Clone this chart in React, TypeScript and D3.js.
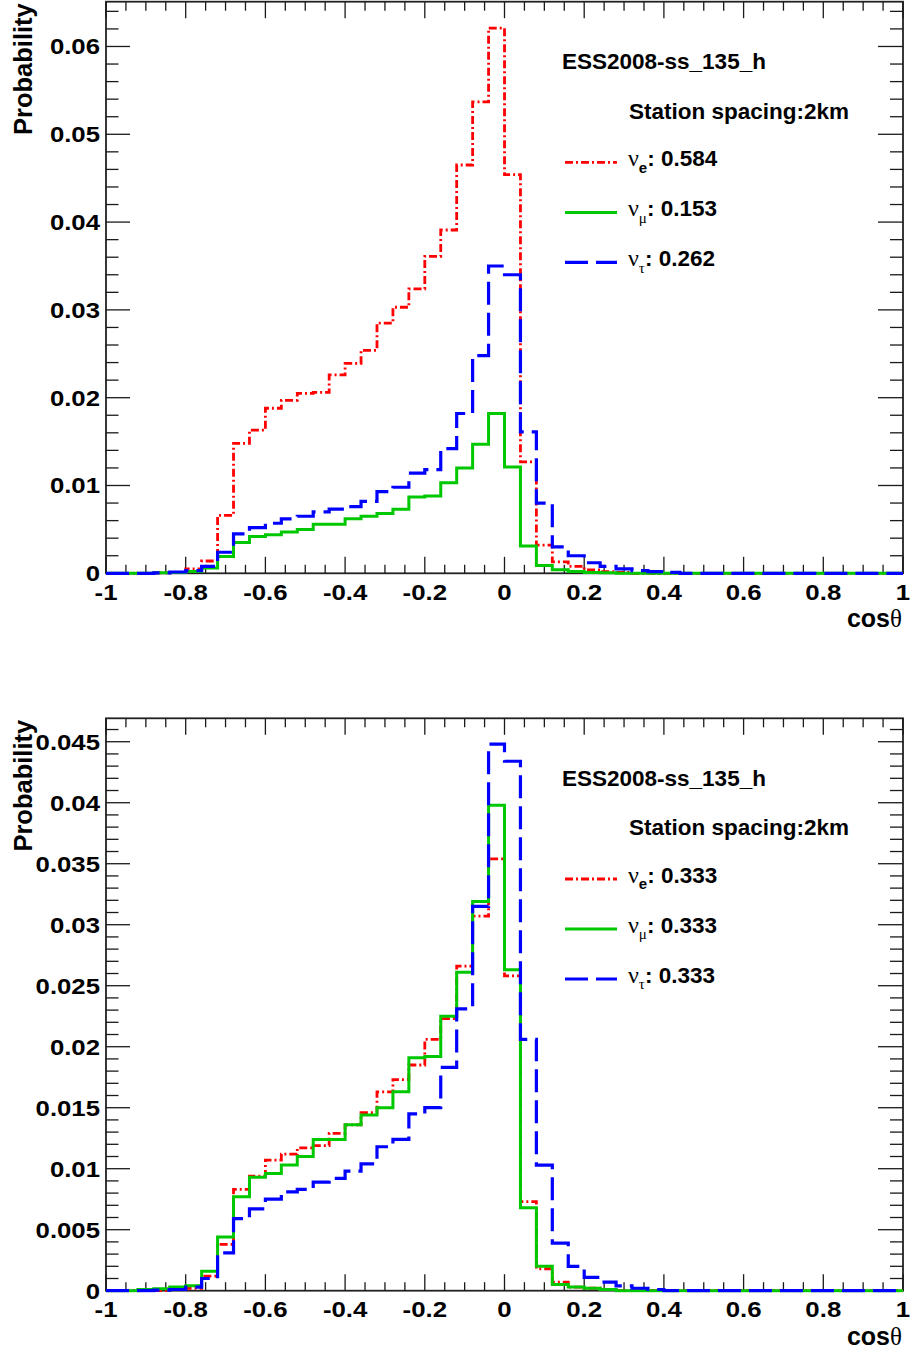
import React from "react";
import * as d3 from "d3";

// Histogram binning: 50 bins of width 0.04 over cos(theta) in [-1, 1]
const BIN_COUNT = 50;
const X_MIN = -1;
const X_MAX = 1;

const X_MAJOR_TICKS = [-1, -0.8, -0.6, -0.4, -0.2, 0, 0.2, 0.4, 0.6, 0.8, 1];
const X_TICK_LABELS = ["-1", "-0.8", "-0.6", "-0.4", "-0.2", "0", "0.2", "0.4", "0.6", "0.8", "1"];

// ---- Upper pad: flavour-weighted distributions ----
const NUE_UPPER = [
  0, 0, 0, 0.00005, 0.0001, 0.0005, 0.0014, 0.0066, 0.0148, 0.0163,
  0.0188, 0.0197, 0.0205, 0.0206, 0.0226, 0.0239, 0.0254, 0.0285, 0.0303, 0.0324,
  0.0361, 0.0391, 0.0465, 0.0537, 0.0621, 0.0454, 0.0127, 0.0032, 0.0013, 0.0008,
  0.0004, 0.0002, 0.0001, 0, 0, 0, 0, 0, 0, 0,
  0, 0, 0, 0, 0, 0, 0, 0, 0, 0,
];
const NUMU_UPPER = [
  0, 0, 0, 0.00005, 0.0001, 0.0002, 0.0006, 0.0019, 0.0035, 0.0042,
  0.0044, 0.0047, 0.005, 0.0056, 0.0056, 0.0062, 0.0065, 0.0068, 0.0073, 0.0087,
  0.0088, 0.0103, 0.012, 0.0147, 0.0182, 0.0121, 0.0031, 0.0009, 0.0004, 0.0002,
  0.0001, 0.00005, 0, 0, 0, 0, 0, 0, 0, 0,
  0, 0, 0, 0, 0, 0, 0, 0, 0, 0,
];
const NUTAU_UPPER = [
  0, 0, 0, 0.00005, 0.00015, 0.0003, 0.0008, 0.0024, 0.0045, 0.0052,
  0.0057, 0.0062, 0.0065, 0.007, 0.0073, 0.0076, 0.0082, 0.0093, 0.0098, 0.0114,
  0.0118, 0.0142, 0.0182, 0.0248, 0.035, 0.034, 0.0161, 0.008, 0.003, 0.002,
  0.0012, 0.0008, 0.0005, 0.0003, 0.0002, 0.0001, 0, 0, 0, 0,
  0, 0, 0, 0, 0, 0, 0, 0, 0, 0,
];
const FRACTIONS_UPPER = ["0.584", "0.153", "0.262"];
const Y_TICKS_UPPER = [0, 0.01, 0.02, 0.03, 0.04, 0.05, 0.06];
const Y_LABELS_UPPER = ["0", "0.01", "0.02", "0.03", "0.04", "0.05", "0.06"];

// ---- Lower pad: equal flavour mixture ----
const NUE_LOWER = [
  0, 0, 0, 0, 0.0001, 0.0002, 0.0012, 0.0038, 0.0083, 0.0094,
  0.0107, 0.0112, 0.0117, 0.0119, 0.0129, 0.0136, 0.0146, 0.0163, 0.0173, 0.0185,
  0.0206, 0.0223, 0.0266, 0.0307, 0.0354, 0.0258, 0.0073, 0.0018, 0.0007, 0.0003,
  0.0002, 0.0001, 0, 0, 0, 0, 0, 0, 0, 0,
  0, 0, 0, 0, 0, 0, 0, 0, 0, 0,
];
const NUMU_LOWER = [
  0, 0, 0.0001, 0.00015, 0.0003, 0.0004, 0.0016, 0.0044, 0.0077, 0.0093,
  0.0096, 0.0103, 0.011, 0.0124, 0.0124, 0.0136, 0.0144, 0.015, 0.0163, 0.0191,
  0.0192, 0.0225, 0.0261, 0.0319, 0.0398, 0.0263, 0.0068, 0.002, 0.0005, 0.0003,
  0.0002, 0.0001, 0, 0, 0, 0, 0, 0, 0, 0,
  0, 0, 0, 0, 0, 0, 0, 0, 0, 0,
];
const NUTAU_LOWER = [
  0, 0, 0, 0.00005, 0.0001, 0.0003, 0.001, 0.0031, 0.0059, 0.0067,
  0.0075, 0.0081, 0.0083, 0.0089, 0.0092, 0.0098, 0.0104, 0.0118, 0.0124, 0.0145,
  0.015, 0.0183, 0.0231, 0.0315, 0.0448, 0.0434, 0.0206, 0.0103, 0.0039, 0.002,
  0.0011, 0.0007, 0.0004, 0.0002, 0.0001, 0, 0, 0, 0, 0,
  0, 0, 0, 0, 0, 0, 0, 0, 0, 0,
];
const FRACTIONS_LOWER = ["0.333", "0.333", "0.333"];
const Y_TICKS_LOWER = [0, 0.005, 0.01, 0.015, 0.02, 0.025, 0.03, 0.035, 0.04, 0.045];
const Y_LABELS_LOWER = ["0", "0.005", "0.01", "0.015", "0.02", "0.025", "0.03", "0.035", "0.04", "0.045"];

const TITLE_TEXT = "ESS2008-ss_135_h";
const SPACING_TEXT = "Station spacing:2km";
const FLAVOURS = [
  { sub: "e", subSerif: false },
  { sub: "\u03bc", subSerif: true },
  { sub: "\u03c4", subSerif: true },
];

const SANS = "'Liberation Sans', Arial, Helvetica, sans-serif";
const SERIF = "'Liberation Serif', 'Times New Roman', serif";

const STYLES = [
  { color: "#ff0000", dash: "8 3 2 3", width: 2.8 },
  { color: "#00c800", dash: null as string | null, width: 3 },
  { color: "#0000ff", dash: "23 8", width: 3.2 },
];

const FRAME_LEFT = 106;
const FRAME_RIGHT = 903;

type PanelProps = {
  id: string;
  top: number;
  bottom: number;
  yMax: number;
  yTicks: number[];
  yLabels: string[];
  yMinorStep: number;
  series: number[][];
  fractions: string[];
};

function Panel({ id, top, bottom, yMax, yTicks, yLabels, yMinorStep, series, fractions }: PanelProps) {
  const x = d3.scaleLinear().domain([X_MIN, X_MAX]).range([FRAME_LEFT, FRAME_RIGHT]);
  const y = d3.scaleLinear().domain([0, yMax]).range([bottom, top]);
  const binWidth = (X_MAX - X_MIN) / BIN_COUNT;

  const stepLine = d3
    .line<[number, number]>()
    .x((d) => x(d[0]))
    .y((d) => y(d[1]))
    .curve(d3.curveStepAfter);

  const histPath = (vals: number[]) => {
    const pts: [number, number][] = [[X_MIN, 0]];
    vals.forEach((v, i) => pts.push([X_MIN + i * binWidth, v]));
    pts.push([X_MAX, 0]);
    return stepLine(pts) || "";
  };

  const xMinor = d3
    .range(0, 41)
    .map((i) => X_MIN + i * 0.05)
    .filter((v) => X_MAJOR_TICKS.every((m) => Math.abs(m - v) > 1e-6));
  const yMinor = d3
    .range(0, Math.floor(yMax / yMinorStep + 1e-6) + 1)
    .map((i) => i * yMinorStep)
    .filter((v) => yTicks.every((m) => Math.abs(m - v) > 1e-7));

  const tickColor = "#1a1a1a";
  const clipId = `clip-${id}`;

  return (
    <g>
      <defs>
        <clipPath id={clipId}>
          <rect x={FRAME_LEFT - 2} y={top - 2} width={FRAME_RIGHT - FRAME_LEFT + 4} height={bottom - top + 4} />
        </clipPath>
      </defs>

      {/* frame */}
      <rect x={FRAME_LEFT} y={top} width={FRAME_RIGHT - FRAME_LEFT} height={bottom - top} fill="white" stroke="#222" strokeWidth={1.8} />

      {/* x ticks, bottom and top; y ticks, left and right */}
      <g stroke={tickColor} strokeWidth={1.3}>
        {X_MAJOR_TICKS.map((v) => (
          <g key={`xM${v}`}>
            <line x1={x(v)} x2={x(v)} y1={bottom} y2={bottom - 16.5} />
            <line x1={x(v)} x2={x(v)} y1={top} y2={top + 16.5} />
          </g>
        ))}
        {xMinor.map((v) => (
          <g key={`xm${v}`}>
            <line x1={x(v)} x2={x(v)} y1={bottom} y2={bottom - 8.5} />
            <line x1={x(v)} x2={x(v)} y1={top} y2={top + 9} />
          </g>
        ))}
        {yTicks.map((v) => (
          <g key={`yM${v}`}>
            <line x1={FRAME_LEFT} x2={FRAME_LEFT + 24} y1={y(v)} y2={y(v)} />
            <line x1={FRAME_RIGHT} x2={FRAME_RIGHT - 25} y1={y(v)} y2={y(v)} />
          </g>
        ))}
        {yMinor.map((v) => (
          <g key={`ym${v}`}>
            <line x1={FRAME_LEFT} x2={FRAME_LEFT + 12.5} y1={y(v)} y2={y(v)} />
            <line x1={FRAME_RIGHT} x2={FRAME_RIGHT - 13} y1={y(v)} y2={y(v)} />
          </g>
        ))}
      </g>

      {/* tick labels and axis titles */}
      <g fontFamily={SANS} fontWeight="bold" fill="#000">
        {yTicks.map((v, i) => (
          <text key={`yl${v}`} transform={`translate(100,${y(v) + 7.9}) scale(1.17,1)`} fontSize={22} textAnchor="end">
            {yLabels[i]}
          </text>
        ))}
        {X_MAJOR_TICKS.map((v, i) => (
          <text key={`xl${v}`} transform={`translate(${x(v)},${bottom + 26.5}) scale(1.2,1)`} fontSize={21.5} textAnchor="middle">
            {X_TICK_LABELS[i]}
          </text>
        ))}
        <text x={902} y={bottom + 54} fontSize={25} textAnchor="end">
          cos<tspan fontFamily={SERIF} fontWeight="normal">{"\u03b8"}</tspan>
        </text>
        <text transform={`translate(31.5,${top + 1.5}) rotate(-90)`} fontSize={25.5} textAnchor="end">
          Probability
        </text>
      </g>

      {/* histograms */}
      <g clipPath={`url(#${clipId})`} fill="none">
        {series.map((vals, k) => (
          <path
            key={`h${k}`}
            d={histPath(vals)}
            stroke={STYLES[k].color}
            strokeWidth={STYLES[k].width}
            strokeDasharray={STYLES[k].dash || undefined}
            strokeLinejoin="miter"
            strokeLinecap="butt"
          />
        ))}
      </g>

      {/* legend */}
      <g fontFamily={SANS} fontWeight="bold" fill="#000">
        <text x={562} y={top + 67.5} fontSize={22.5}>{TITLE_TEXT}</text>
        <text x={629} y={top + 117} fontSize={22.5}>{SPACING_TEXT}</text>
        {FLAVOURS.map((f, k) => {
          const ly = top + 160.7 + k * 50;
          return (
            <g key={`lg${k}`}>
              <line
                x1={565}
                x2={617}
                y1={ly}
                y2={ly}
                stroke={STYLES[k].color}
                strokeWidth={STYLES[k].width}
                strokeDasharray={STYLES[k].dash || undefined}
              />
              <text x={628} y={ly + 3.8} fontSize={22.5}>
                <tspan fontFamily={SERIF} fontWeight="normal" fontSize={24}>{"\u03bd"}</tspan>
                <tspan
                  dy={6.5}
                  fontSize={15}
                  fontFamily={f.subSerif ? SERIF : SANS}
                  fontWeight={f.subSerif ? "normal" : "bold"}
                >
                  {f.sub}
                </tspan>
                <tspan dy={-6.5}>: {fractions[k]}</tspan>
              </text>
            </g>
          );
        })}
      </g>
    </g>
  );
}

export default function App() {
  return (
    <svg
      width={912}
      height={1355}
      viewBox="0 0 912 1355"
      style={{ position: "absolute", left: 0, top: 0, background: "#fff" }}
    >
      <rect x={0} y={0} width={912} height={1355} fill="#fff" />
      <Panel
        id="upper"
        top={1.7}
        bottom={573.3}
        yMax={0.0651}
        yTicks={Y_TICKS_UPPER}
        yLabels={Y_LABELS_UPPER}
        yMinorStep={0.002}
        series={[NUE_UPPER, NUMU_UPPER, NUTAU_UPPER]}
        fractions={FRACTIONS_UPPER}
      />
      <Panel
        id="lower"
        top={718.3}
        bottom={1290.7}
        yMax={0.04692}
        yTicks={Y_TICKS_LOWER}
        yLabels={Y_LABELS_LOWER}
        yMinorStep={0.001}
        series={[NUE_LOWER, NUMU_LOWER, NUTAU_LOWER]}
        fractions={FRACTIONS_LOWER}
      />
    </svg>
  );
}
